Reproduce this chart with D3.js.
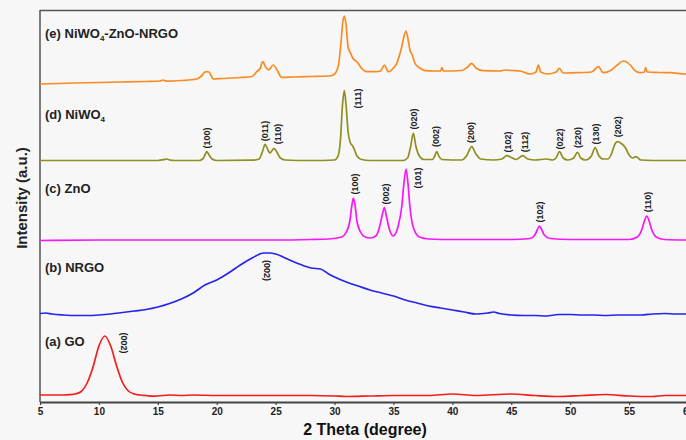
<!DOCTYPE html>
<html>
<head>
<meta charset="utf-8">
<script src="https://cdn.jsdelivr.net/npm/d3@7"></script>
<style>
  html, body { margin: 0; padding: 0; background: #f7f7f7; }
  svg { display: block; font-family: Arial, "Liberation Sans", sans-serif; }
</style>
</head>
<body>
<div id="chart"></div>
<script>
const width = 686;
const height = 440;
const margin = { top: 10, right: -2, bottom: 38, left: 40 };

// x tick values (2 theta, degree)
const xTicks = [5, 10, 15, 20, 25, 30, 35, 40, 45, 50, 55, 60];

// patterns: [2theta, intensity a.u.] (stacked offsets included)
const goPattern = [
  [5, 7], [6, 7], [7, 7], [7.5, 7.3], [8, 8], [8.5, 10.5], [9, 19], [9.5, 35], [10, 56],
  [10.5, 66], [11, 56], [11.5, 36], [12, 19.5], [12.5, 11], [13, 8], [13.5, 7], [14, 6.5],
  [14.5, 5.8], [15, 6], [16, 7], [17, 6.5], [18, 7], [20, 6.5], [22, 6.5], [25, 6.5],
  [28, 6.5], [30, 6], [31, 5.5], [33, 6], [35, 6.5], [38, 6.5], [40, 8], [42, 6.5],
  [45, 8], [47, 6.5], [49, 5.5], [51, 6.5], [53, 7.5], [55, 6], [57, 5.5], [58, 6.5], [60, 6.5]
];

const nrgoPattern = [
  [5, 88.5], [5.5, 89], [6, 88], [7, 87], [8, 86.5], [9, 86.5], [10, 87], [11, 88], [12, 89.5],
  [13, 91], [14, 92.5], [15, 95], [16, 98.5], [17, 103], [18, 109], [19, 117], [20, 122],
  [21, 129], [22, 137], [23, 144], [24, 149], [24.5, 149], [25, 148], [26, 143], [27, 138],
  [28, 134], [28.8, 133], [29.5, 128], [30, 125], [31, 120], [32, 116], [33, 112], [34, 109],
  [35, 106], [36, 102], [37, 99], [38, 96], [39, 94], [40, 92], [41, 90], [42, 88], [43, 89],
  [43.5, 90], [44, 88.5], [45, 87], [46, 86.5], [47, 86.5], [48, 86], [49, 87.5], [50, 87.5],
  [51, 87], [52, 87], [53, 86.5], [54, 87], [55, 87], [56, 87], [57, 88], [58, 88.5], [59, 88], [60, 88]
];

const znoPattern = [
  [5, 161.5], [10, 162], [15, 162], [20, 162], [25, 162], [28, 162.5], [29.5, 163], [30.6, 165],
  [31.0, 170], [31.3, 181], [31.45, 195], [31.6, 204], [31.75, 196], [31.9, 181], [32.2, 170],
  [32.6, 165], [33.0, 164], [33.5, 166], [33.8, 174], [34.05, 187], [34.23, 194.5], [34.4, 186],
  [34.6, 175], [34.97, 166], [35.4, 176], [35.7, 195], [35.9, 220], [36.07, 233], [36.22, 220],
  [36.4, 195], [36.7, 174], [37.2, 165], [38, 163], [40, 162.5], [45, 162.5], [46.6, 163.5],
  [47.0, 167], [47.2, 172], [47.39, 176], [47.6, 172], [47.8, 167], [48.3, 163.5], [50, 162.5],
  [55, 162.5], [55.7, 165], [56.1, 173], [56.3, 181], [56.5, 186], [56.7, 181], [56.9, 173],
  [57.3, 165], [58, 162.5], [60, 162]
];

const niwo4Pattern = [
  [5, 241.5], [10, 241.5], [15, 241.5], [15.5, 242.3], [15.75, 243], [16.0, 242], [16.5, 241.5],
  [18.5, 241.5], [18.8, 243], [19.0, 247], [19.15, 250.3], [19.35, 247], [19.6, 243], [20.0, 241.5],
  [23.0, 241.8], [23.6, 243], [23.9, 251], [24.1, 257.7], [24.35, 252], [24.5, 249], [24.7, 251.5],
  [24.86, 253.7], [25.1, 250], [25.4, 244], [25.8, 242], [28, 241.5], [30.0, 242], [30.3, 246],
  [30.5, 262], [30.68, 298], [30.83, 311.3], [30.97, 298], [31.15, 270], [31.35, 259], [31.55, 256],
  [31.7, 252], [31.9, 246], [32.3, 242.5], [33, 241.5], [35.8, 241.5], [36.2, 244], [36.45, 255],
  [36.69, 268.7], [36.9, 256], [37.2, 246], [37.6, 242.5], [38.3, 242.5], [38.5, 246], [38.67, 250.3],
  [38.85, 246], [39.1, 242.5], [40.8, 242], [41.2, 246], [41.64, 255.3], [42.0, 248], [42.4, 243],
  [43.5, 242], [44.2, 243], [44.62, 246.3], [45.0, 244.5], [45.4, 242.5], [45.98, 246.3], [46.4, 243],
  [47.0, 242], [48.0, 243], [48.5, 242], [48.8, 244], [49.09, 250.3], [49.4, 244], [49.8, 242],
  [50.3, 244], [50.62, 249.7], [50.9, 244], [51.3, 242], [51.8, 246], [52.12, 254.3], [52.4, 247],
  [52.8, 243], [53.2, 243], [53.5, 248], [53.8, 258], [54.0, 260.3], [54.4, 258], [54.7, 254],
  [55.0, 247], [55.3, 244], [55.6, 245.3], [56.0, 242], [58, 241.5], [60, 241.5]
];

const compositePattern = [
  [5, 318], [8, 319], [10, 319.5], [12, 320], [14, 320.5], [15.2, 321], [15.45, 322], [15.7, 320.8],
  [17, 321.5], [18.3, 323], [18.7, 326], [19.0, 330], [19.15, 330.3], [19.35, 330], [19.5, 327],
  [19.7, 323], [20.5, 323.5], [22, 324.5], [23, 325.5], [23.4, 330.3], [23.7, 334], [23.9, 340.3],
  [24.15, 335], [24.4, 332], [24.8, 337], [25.2, 330.3], [25.5, 324.7], [26.5, 325], [28, 325.5],
  [29.5, 326], [29.9, 327], [30.3, 335], [30.55, 360], [30.7, 380], [30.83, 386], [30.97, 378],
  [31.15, 355], [31.37, 348.7], [31.55, 343.7], [31.9, 340.3], [32.3, 333.7], [32.7, 330.3],
  [33.5, 330.3], [33.9, 331], [34.23, 337], [34.57, 330.3], [35.0, 334], [35.28, 338.7],
  [35.7, 355.3], [35.9, 366], [36.07, 371], [36.25, 362], [36.4, 352], [36.6, 347], [36.83, 338.7],
  [37.26, 333.7], [37.7, 331.3], [38.5, 331], [39.0, 331], [39.1, 334.3], [39.25, 331], [40.8, 331.5],
  [41.3, 335], [41.64, 338.7], [42.0, 334], [42.6, 331.3], [44.0, 331], [44.5, 332], [45.0, 331.5],
  [45.75, 331], [46.6, 328], [47.1, 330], [47.3, 337], [47.5, 330], [48.1, 328], [48.8, 330],
  [49.09, 333.7], [49.4, 329], [50.55, 329.3], [51.8, 330], [52.4, 335.3], [52.8, 329.3], [53.5, 332],
  [54.0, 337], [54.5, 341], [55.1, 337], [55.5, 331.3], [55.9, 329.3], [56.3, 330], [56.4, 334.3],
  [56.55, 330], [57.5, 329.5], [58.5, 329.3], [59.8, 328], [60, 328]
];

// (hkl) annotations: [label, 2theta, intensity a.u.]
const niwo4Peaks = [
  ["(100)", 19.15, 264], ["(011)", 24.1, 271], ["(110)", 25.17, 268], ["(111)", 32.02, 303.5],
  ["(020)", 36.77, 283], ["(002)", 38.61, 265.5], ["(200)", 41.56, 269.5], ["(102)", 44.75, 260],
  ["(112)", 46.16, 260], ["(022)", 49.13, 263], ["(220)", 50.64, 264.5], ["(130)", 52.17, 268],
  ["(202)", 54.08, 275.3]
];
const znoPeaks = [
  ["(100)", 31.74, 218], ["(002)", 34.37, 208], ["(101)", 37.11, 224],
  ["(102)", 47.44, 190], ["(110)", 56.63, 200]
];
const carbonPeaks = [
  ["(002)", 24.29, 131.5], ["(002)", 12.13, 59]
];

const seriesNames = ["(a) GO", "(b) NRGO", "(c) ZnO", "(d) NiWO", "(e) NiWO"];

const series = [
  { data: goPattern, color: "#f51c1c", label: seriesNames[0], labelY: 346 },
  { data: nrgoPattern, color: "#2424ec", label: seriesNames[1], labelY: 272 },
  { data: znoPattern, color: "#f717f7", label: seriesNames[2], labelY: 193 },
  { data: niwo4Pattern, color: "#8e8e22", label: seriesNames[3], labelY: 119, sub: "4" },
  { data: compositePattern, color: "#fb8a22", label: seriesNames[4], labelY: 38, sub: "4", tail: "-ZnO-NRGO" }
];

const svg = d3.select("#chart")
  .append("svg")
  .attr("width", width)
  .attr("height", height);

svg.append("rect").attr("width", width).attr("height", height).attr("fill", "#f7f7f7");

const x = d3.scaleLinear()
  .domain([5, 60])
  .range([margin.left, width - margin.right]);

const y = d3.scaleLinear()
  .domain([0, 392])
  .range([height - margin.bottom, margin.top]);

// frame: top border and left axis line
svg.append("line")
  .attr("x1", margin.left).attr("x2", width + 5)
  .attr("y1", margin.top + 0.5).attr("y2", margin.top + 0.5)
  .attr("stroke", "#555").attr("stroke-width", 1.3);

svg.append("line")
  .attr("x1", margin.left).attr("x2", margin.left)
  .attr("y1", margin.top).attr("y2", height - margin.bottom)
  .attr("stroke", "#555").attr("stroke-width", 1.5);

// x axis
const xAxis = svg.append("g")
  .attr("transform", `translate(0,${height - margin.bottom})`)
  .call(d3.axisBottom(x).tickValues(xTicks).tickSize(3).tickPadding(3).tickSizeOuter(0));

xAxis.select(".domain").attr("stroke", "#444").attr("stroke-width", 1.8);
xAxis.selectAll(".tick line").attr("stroke", "#444").attr("stroke-width", 1.2);
xAxis.selectAll("text")
  .attr("fill", "#222")
  .attr("font-size", 10)
  .attr("font-weight", "bold")
  .attr("font-family", "Arial, 'Liberation Sans', sans-serif");

// curves
const line = d3.line()
  .x((d) => x(d[0]))
  .y((d) => y(d[1]))
  .curve(d3.curveMonotoneX);

series.forEach((s) => {
  svg.append("path")
    .datum(s.data)
    .attr("fill", "none")
    .attr("stroke", s.color)
    .attr("stroke-width", 1.7)
    .attr("stroke-linejoin", "round")
    .attr("d", line);
});

// series names
series.forEach((s) => {
  const t = svg.append("text")
    .attr("x", 45)
    .attr("y", s.labelY)
    .attr("fill", "#222")
    .attr("font-size", 13)
    .attr("font-weight", "bold")
    .text(s.label);
  if (s.sub) {
    t.append("tspan")
      .attr("font-size", 8)
      .attr("dy", 3)
      .text(s.sub);
  }
  if (s.tail) {
    t.append("tspan")
      .attr("dy", -3)
      .text(s.tail);
  }
});

// hkl labels (the carbon ones read top to bottom in the original figure)
function hklLabels(peaks, angle) {
  svg.append("g")
    .selectAll("text")
    .data(peaks)
    .join("text")
    .attr("transform", (d) => `translate(${x(d[1])},${y(d[2])}) rotate(${angle})`)
    .attr("text-anchor", "middle")
    .attr("dominant-baseline", "central")
    .attr("fill", "#222")
    .attr("font-size", 9)
    .attr("font-weight", "bold")
    .text((d) => d[0]);
}
hklLabels(niwo4Peaks, -90);
hklLabels(znoPeaks, -90);
hklLabels(carbonPeaks, 90);

// axis titles
svg.append("text")
  .attr("x", 365)
  .attr("y", 435)
  .attr("text-anchor", "middle")
  .attr("fill", "#111")
  .attr("font-size", 16)
  .attr("font-weight", "bold")
  .text("2 Theta (degree)");

svg.append("text")
  .attr("transform", `translate(27,${(margin.top + height - margin.bottom) / 2 - 8}) rotate(-90)`)
  .attr("text-anchor", "middle")
  .attr("fill", "#222")
  .attr("font-size", 15)
  .attr("font-weight", 600)
  .text("Intensity (a.u.)");
</script>
</body>
</html>
